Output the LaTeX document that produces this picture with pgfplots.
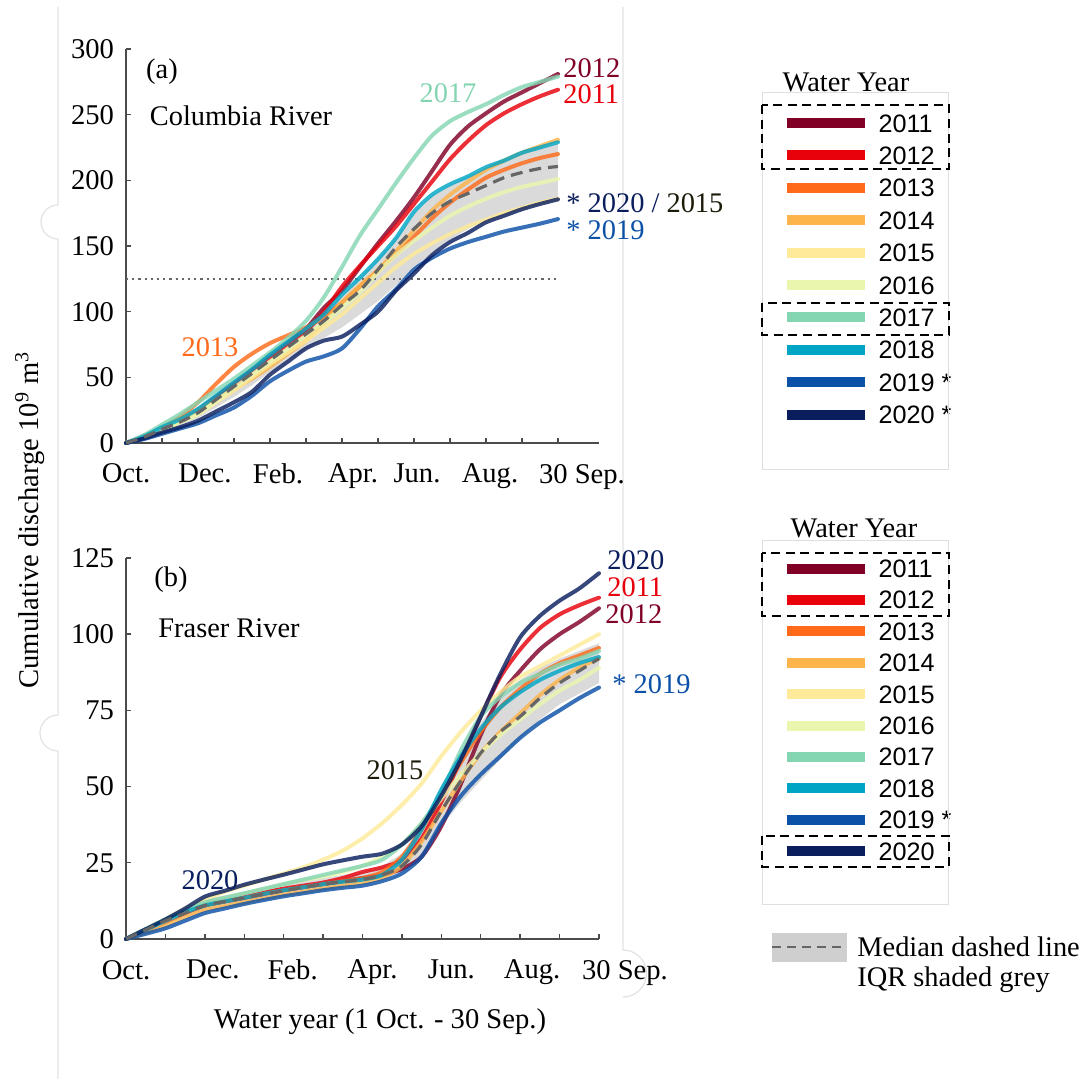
\documentclass[border=0pt]{standalone}
\usepackage{fontspec}
\setmainfont{Liberation Serif}
\newfontfamily\legfont{Liberation Sans}
\usepackage{pgfplots}
\pgfplotsset{compat=1.18}
\usepackage{pgfplotstable}

\definecolor{c2011}{HTML}{800026}
\definecolor{c2012}{HTML}{E8000B}
\definecolor{c2013}{HTML}{FF6A1A}
\definecolor{c2014}{HTML}{FDB44B}
\definecolor{c2015}{HTML}{FEEA98}
\definecolor{c2016}{HTML}{EAF6AE}
\definecolor{c2017}{HTML}{84D5B2}
\definecolor{c2018}{HTML}{00A5C6}
\definecolor{c2019}{HTML}{0C51A8}
\definecolor{c2020}{HTML}{0A1E5E}
\definecolor{t2015}{HTML}{1C1A08}
\definecolor{iqr}{HTML}{DADADA}
\definecolor{medc}{HTML}{666666}
\definecolor{frame}{HTML}{E2E2E2}

% Columbia River: cumulative discharge (10^9 m^3) by month of water year
\pgfplotstableread{
m    a11 a12 a13 a14 a15 a16 a17 a18 a19 a20 med
0    0   0   0   0   0   0   0   0   0   0   0
0.5  5   5   5   5   4.5 4.5 6   5   3   3.5 4.5
1    11  11  12  12  10  10  14  12  7   8   10.5
1.5  17  17  20  18  16  16  22  18  11  12  16
2    24  25  31  25  22  22  31  26  15  17  23
2.5  34  35  45  33  31  32  40  36  21  24  33
3    44  45  58  41  40  42  49  46  27  31  43
3.5  56  55  68  49  50  52  59  56  36  39  53
4    67  65  76  58  60  62  69  67  47  52  63
4.5  77  75  82  68  69  72  80  77  55  62  73
5    87  85  88  78  78  82  93  87  62  72  83
5.5  103 100 96  92  88  92  111 98  66  78  93
6    116 119 107 107 98  103 134 113 72  81  105
6.5  134 135 119 120 110 115 158 126 87  90  116
7    152 150 131 132 122 130 178 140 104 100 132
7.5  169 165 144 146 134 143 198 156 117 116 149
8    187 182 157 162 144 154 217 176 132 129 163
8.5  207 199 171 177 152 164 234 189 141 143 175
9    227 216 183 189 159 173 245 197 148 153 184
9.5  241 230 193 199 165 180 252 203 153 160 190
10   251 242 202 208 170 186 258 210 157 168 196
10.5 260 251 208 215 175 191 265 215 161 173 202
11   267 258 213 221 179 195 271 221 164 178 206
11.5 274 264 217 226 183 198 275 225 167 182 209
12   281 269 220 231 186 201 279 229 170.5 185.5 210.5
}\tabA

% Fraser River: cumulative discharge (10^9 m^3) by month of water year
\pgfplotstableread{
m    b11  b12   b13  b14  b15  b16  b17  b18  b19  b20  med
0    0    0     0    0    0    0    0    0    0    0    0
0.5  2.8  3     3    2.2  3.2  3    3.3  3    1.7  3.2  3
1    5.5  6     6    4.5  6.5  6    6.5  6    3.5  6.4  6
1.5  8.5  9     8.8  7.2  10   9    9.5  8.8  6    10   8.5
2    11   11.5  11   9.5  13   12   12   11   8.5  13.9 11
2.5  12.3 12.8  12.3 10.8 15.5 13.5 13.5 12.3 10   15.8 12.3
3    13.5 14    13.5 12   17.5 15   15   13.5 11.5 17.8 13.5
3.5  14.8 15.3  14.8 13.3 19.5 16.5 16.5 14.8 12.8 19.5 14.7
4    16   16.5  16   14.5 21.5 18   18   16   14   21.1 15.8
4.5  17   17.5  17   15.5 23.5 19.3 19.5 17   15   22.8 17
5    18   18.5  18   16.5 26   20.5 21   18   16   24.5 18
5.5  19   20    19   17.5 29   22   22.5 18.8 16.8 25.8 18.8
6    20   22    20   18.5 33   24   24   19.5 17.5 27   19.5
6.5  21   23.5  22   20   38   27   26   21   19   28   21
7    23   26    27   24   44   31   31   26   21.5 31   24
7.5  27   33    36   32   51   38   38   36   27   37   31
8    37   45    47   42   60   46   48   49   38   47   42
8.5  51   59    58   52   68   54   62   60   47   59   52
9    67   73    68   61   75   61   73   69   54   73   61
9.5  80   86    76   68   81   67   79.5 76   60   87   68
10   88   95    82   74   86   72   84   81   66   99   73
10.5 95   102   87   80   89.5 77   87   85   71   106  79
11   100  106.5 90.5 85   93   81.5 90   88   75   111  84
11.5 104  109.5 93   89   96.5 85   92   90.5 79   115  88
12   108.5 112  95.5 92   100  89   94.5 92.5 82.5 120  92
}\tabB

\pgfplotsset{
  yr/.style={line width=2pt, smooth, tension=0.45, opacity=0.82, line cap=round, line join=round},
  panel/.style={
    scale only axis,
    axis x line*=bottom, axis y line*=left,
    xmin=0, ymin=0,
    axis line style={draw=black!70, line width=0.7pt},
    tick style={draw=black!70, line width=0.7pt},
    tick align=inside, major tick length=2.6pt,
    xtick={0,...,12},
    tick label style={font=\fontsize{14.3}{17}\selectfont},
    xticklabel style={yshift=-7pt},
    yticklabel style={xshift=-2.5pt},
    /pgf/number format/assume math mode=true,
    clip=false,
    legend cell align=left,
    legend style={draw=none, fill=none, inner sep=0pt, anchor=north west,
      font=\legfont\fontsize{12.6}{12.6}\selectfont,
      nodes={inner sep=0pt, text height=9pt, text depth=0pt},
      /tikz/column sep=4.5pt},
    legend image code/.code={\draw[#1, line width=5pt, opacity=1, line cap=butt] (0pt,0pt) -- (39pt,0pt);},
  },
}
\tikzset{ann/.style={font=\fontsize{14.2}{17}\selectfont, inner sep=0pt}}

\begin{document}
\begin{tikzpicture}
\useasboundingbox (0,0) rectangle (544pt,-539.5pt);

% page frame remnants
\draw[frame, line width=0.6pt] (29pt,-3.5pt) -- (29pt,-102.5pt)
  arc[start angle=90, end angle=270, radius=8.5pt] -- (29pt,-357.5pt)
  arc[start angle=90, end angle=270, radius=9pt] -- (29pt,-539.5pt);
\draw[frame, line width=0.6pt] (311.5pt,-3.5pt) -- (311.5pt,-475pt)
  arc[start angle=90, end angle=-90, radius=11.75pt];

% ---------------- (a) Columbia River ----------------
\begin{axis}[panel,
  at={(63pt,-221.5pt)}, anchor=south west,
  width=236.5pt, height=197pt,
  xmax=13.14, ymax=300, ytick={0,50,...,300},
  xticklabels={Oct.,{},\hspace*{7pt}Dec.,{},\hspace*{8pt}Feb.,{},\hspace*{11pt}Apr.,{},\hspace*{3pt}Jun.,{},\hspace*{4pt}Aug.,{},\hspace*{24pt}30 Sep.},
  legend style={at={(1.385,0.836)}, /tikz/row sep=7.2pt},
]
% interquartile range: upper quartile forward, lower quartile back
\addplot[fill=iqr, draw=none, forget plot] coordinates {
  (0,0) (0.5,5.5) (1,12.5) (1.5,19) (2,27) (2.5,37) (3,48) (3.5,58) (4,68) (4.5,78)
  (5,88) (5.5,99) (6,112) (6.5,126) (7,140) (7.5,156) (8,174) (8.5,188) (9,196)
  (9.5,203) (10,209) (10.5,215) (11,220) (11.5,224) (12,228)
  (12,186) (11.5,183) (11,179) (10.5,175) (10,170) (9.5,163) (9,155) (8.5,145)
  (8,133) (7.5,120) (7,108) (6.5,98) (6,88) (5.5,80) (5,72) (4.5,63) (4,54)
  (3.5,44) (3,35) (2.5,27) (2,19) (1.5,13) (1,8) (0.5,3.5)};
\addplot[gray!80!black, line width=1.1pt, dash pattern=on 1.1pt off 2pt, forget plot] coordinates {(0,125) (12,125)};
\addplot[yr, c2011] table[x=m, y=a11] {\tabA}; \addlegendentry{2011}
\addplot[yr, c2012] table[x=m, y=a12] {\tabA}; \addlegendentry{2012}
\addplot[yr, c2013] table[x=m, y=a13] {\tabA}; \addlegendentry{2013}
\addplot[yr, c2014] table[x=m, y=a14] {\tabA}; \addlegendentry{2014}
\addplot[yr, c2015] table[x=m, y=a15] {\tabA}; \addlegendentry{2015}
\addplot[yr, c2016] table[x=m, y=a16] {\tabA}; \addlegendentry{2016}
\addplot[yr, c2017] table[x=m, y=a17] {\tabA}; \addlegendentry{2017}
\addplot[yr, c2018] table[x=m, y=a18] {\tabA}; \addlegendentry{2018}
\addplot[yr, c2019] table[x=m, y=a19] {\tabA}; \addlegendentry{2019 *}
\addplot[yr, c2020] table[x=m, y=a20] {\tabA}; \addlegendentry{2020 *}
\addplot[medc, line width=1.6pt, dash pattern=on 6pt off 3.5pt, smooth, forget plot] table[x=m, y=med] {\tabA};
\end{axis}

% ---------------- (b) Fraser River ----------------
\begin{axis}[panel,
  at={(63pt,-469.5pt)}, anchor=south west,
  width=236.5pt, height=190.5pt,
  xmax=12, ymax=125, ytick={0,25,...,125},
  xticklabels={Oct.,{},\hspace*{8pt}Dec.,{},\hspace*{9pt}Feb.,{},\hspace*{10pt}Apr.,{},\hspace*{10pt}Jun.,{},\hspace*{12pt}Aug.,{},\hspace*{26pt}30 Sep.},
  legend style={at={(1.385,0.997)}, /tikz/row sep=6.7pt},
]
\addplot[fill=iqr, draw=none, forget plot] coordinates {
  (0,0) (0.5,3.5) (1,7) (1.5,10) (2,13) (2.5,14.3) (3,15.5) (3.5,16.8) (4,18) (4.5,19)
  (5,20) (5.5,21) (6,22) (6.5,24) (7,28) (7.5,37) (8,50) (8.5,62) (9,71) (9.5,79)
  (10,85) (10.5,89) (11,92) (11.5,94.5) (12,97)
  (12,84) (11.5,80.5) (11,77) (10.5,72) (10,66) (9.5,59) (9,52) (8.5,45) (8,37)
  (7.5,27) (7,22) (6.5,20) (6,18.5) (5.5,17.5) (5,16.5) (4.5,15.5) (4,14.5)
  (3.5,13.3) (3,12) (2.5,10.8) (2,9.5) (1.5,7.3) (1,5) (0.5,2.5)};
\addplot[yr, c2011] table[x=m, y=b11] {\tabB}; \addlegendentry{2011}
\addplot[yr, c2012] table[x=m, y=b12] {\tabB}; \addlegendentry{2012}
\addplot[yr, c2013] table[x=m, y=b13] {\tabB}; \addlegendentry{2013}
\addplot[yr, c2014] table[x=m, y=b14] {\tabB}; \addlegendentry{2014}
\addplot[yr, c2015] table[x=m, y=b15] {\tabB}; \addlegendentry{2015}
\addplot[yr, c2016] table[x=m, y=b16] {\tabB}; \addlegendentry{2016}
\addplot[yr, c2017] table[x=m, y=b17] {\tabB}; \addlegendentry{2017}
\addplot[yr, c2018] table[x=m, y=b18] {\tabB}; \addlegendentry{2018}
\addplot[yr, c2019] table[x=m, y=b19] {\tabB}; \addlegendentry{2019 *}
\addplot[yr, c2020] table[x=m, y=b20] {\tabB}; \addlegendentry{2020}
\addplot[medc, line width=1.6pt, dash pattern=on 6pt off 3.5pt, smooth, forget plot] table[x=m, y=med] {\tabB};
\end{axis}

% panel annotations
\node[ann] at (81pt,-36pt) {(a)};
\node[ann] at (120.5pt,-58pt) {Columbia River};
\node[ann, text=c2013] at (105pt,-173.5pt) {2013};
\node[ann, text=c2017] at (224pt,-46.5pt) {2017};
\node[ann, text=c2011, anchor=west] at (281.5pt,-34pt) {2012};
\node[ann, text=c2012, anchor=west] at (281.5pt,-47pt) {2011};
\node[ann, anchor=west] at (283pt,-101.5pt) {\textcolor{c2020}{* 2020 / }\textcolor{t2015}{2015}};
\node[ann, text=c2019, anchor=west] at (283pt,-115pt) {* 2019};

\node[ann] at (85.5pt,-290pt) {(b)};
\node[ann] at (114.5pt,-314pt) {Fraser River};
\node[ann, text=c2020] at (105pt,-440pt) {2020};
\node[ann, text=t2015] at (197.5pt,-385pt) {2015};
\node[ann, text=c2020, anchor=west] at (303.5pt,-280pt) {2020};
\node[ann, text=c2012, anchor=west] at (303.5pt,-293.5pt) {2011};
\node[ann, text=c2011, anchor=west] at (302.5pt,-307pt) {2012};
\node[ann, text=c2019, anchor=west] at (306pt,-342pt) {* 2019};

% axis titles
\node[rotate=90, font=\fontsize{14.3}{17}\selectfont] at (15pt,-260pt) {Cumulative discharge 10\textsuperscript{9} m\textsuperscript{3}};
\node[font=\fontsize{14.3}{17}\selectfont] at (190pt,-511pt) {Water year (1 Oct. - 30 Sep.)};

% legend frames
\draw[gray!25, line width=0.5pt] (381pt,-46.5pt) rectangle (474pt,-235pt);
\node[font=\fontsize{14.2}{17}\selectfont] at (423pt,-41pt) {Water Year};
\draw[black, line width=1.1pt, dash pattern=on 4.5pt off 2.8pt] (381pt,-52.5pt) rectangle (474.5pt,-84.5pt);
\draw[black, line width=1.1pt, dash pattern=on 4.5pt off 2.8pt] (381pt,-151.5pt) rectangle (474.5pt,-167.5pt);

\draw[gray!25, line width=0.5pt] (381pt,-270.5pt) rectangle (474pt,-452.5pt);
\node[font=\fontsize{14.2}{17}\selectfont] at (427pt,-264pt) {Water Year};
\draw[black, line width=1.1pt, dash pattern=on 4.5pt off 2.8pt] (381pt,-276.5pt) rectangle (474.5pt,-308pt);
\draw[black, line width=1.1pt, dash pattern=on 4.5pt off 2.8pt] (381pt,-418pt) rectangle (474.5pt,-433.5pt);

% median / IQR key
\fill[iqr!95!black] (386pt,-466.5pt) rectangle (423.5pt,-481pt);
\draw[medc, line width=1.4pt, dash pattern=on 4.5pt off 3pt] (386pt,-473.5pt) -- (423.5pt,-473.5pt);
\node[ann, anchor=west] at (428.5pt,-473.5pt) {Median dashed line};
\node[ann, anchor=west] at (428.5pt,-490pt) {IQR shaded grey};
\end{tikzpicture}
\end{document}
